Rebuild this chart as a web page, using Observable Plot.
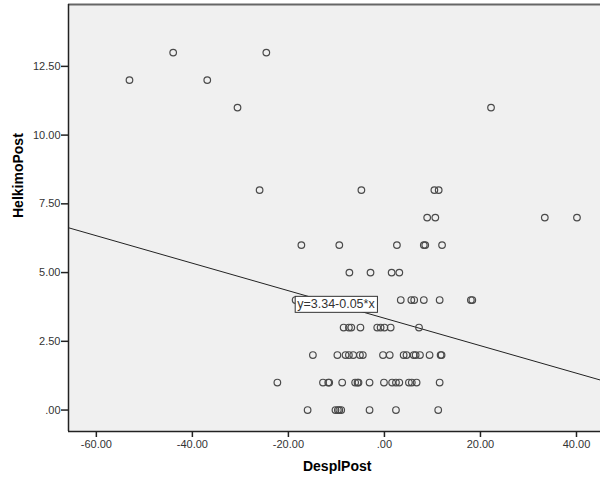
<!DOCTYPE html>
<html><head><meta charset="utf-8">
<script src="https://cdn.jsdelivr.net/npm/d3@7"></script>
<script src="https://cdn.jsdelivr.net/npm/@observablehq/plot@0.6"></script>
<style>body{margin:0;background:#fff} svg{display:block}</style>
</head><body><div id="chart"></div>
<script>
// DesplPost (x) and HelkimoPost (y)
const despl = [
  -44.0, -24.6,
  -53.1, -36.9,
  -30.6, 22.2,
  -26.0, -4.8, 10.4, 11.3,
  8.9, 10.6, 33.4, 40.1,
  -17.3, -9.4, 2.6, 8.2, 8.5, 12.0,
  -7.3, -2.9, 1.5, 3.1,
  -18.5, 3.4, 5.6, 6.2, 8.2, 11.5, 18.0, 18.3,
  -8.5, -7.4, -6.9, -5.0, -1.5, -0.8, 0.0, 1.3, 7.2,
  -14.9, -9.8, -8.1, -7.4, -6.5, -5.1, -4.5, -0.3, 1.1, 4.0, 4.6, 6.1, 6.5, 7.4, 9.4, 11.7, 11.9,
  -22.3, -12.8, -11.7, -11.5, -8.8, -6.1, -5.6, -5.4, -3.1, -0.1, 1.6, 2.4, 3.1, 5.1, 5.7, 6.7, 11.5,
  -16.0, -10.2, -9.7, -9.4, -9.0, -3.1, 2.4, 11.2
];
const helkimo = [
  13, 13,
  12, 12,
  11, 11,
  8, 8, 8, 8,
  7, 7, 7, 7,
  6, 6, 6, 6, 6, 6,
  5, 5, 5, 5,
  4, 4, 4, 4, 4, 4, 4, 4,
  3, 3, 3, 3, 3, 3, 3, 3, 3,
  2, 2, 2, 2, 2, 2, 2, 2, 2, 2, 2, 2, 2, 2, 2, 2, 2,
  1, 1, 1, 1, 1, 1, 1, 1, 1, 1, 1, 1, 1, 1, 1, 1, 1,
  0, 0, 0, 0, 0, 0, 0, 0
];
const xTicks = [-60, -40, -20, 0, 20, 40];
const yTicks = [0, 2.5, 5, 7.5, 10, 12.5];
const xDomain = [-65.8, 45];
const yDomain = [-0.78, 14.75];
const intercept = 3.34;
const slope = -0.05;
const fitLabel = "y=3.34-0.05*x";
const labelX = -10.1;
const xTitle = "DesplPost";
const yTitle = "HelkimoPost";

const fmt = d => d3.format(".2f")(d).replace("\u2212", "-").replace(/^(-?)0\./, "$1.");
const points = despl.map((x, i) => ({x, y: helkimo[i]}));
const fit = xDomain.map(x => ({x, y: intercept + slope * x}));

const plot = Plot.plot({
  width: 600, height: 483,
  marginLeft: 68, marginRight: 0, marginTop: 4, marginBottom: 52,
  style: {fontFamily: "'Liberation Sans', Arial, sans-serif", fontSize: "11px", color: "#333", background: "#fff"},
  x: {domain: xDomain, label: null},
  y: {domain: yDomain, label: null},
  marks: [
    Plot.frame({fill: "#f0f0f0"}),
    Plot.ruleY([yDomain[1]], {stroke: "#666", strokeWidth: 2}),
    Plot.line(fit, {x: "x", y: "y", stroke: "#222", strokeWidth: 1, clip: true}),
    Plot.dot(points, {x: "x", y: "y", r: 3.3, stroke: "#4a4a4a", strokeWidth: 1.2, fill: "none"}),
    Plot.text([{x: labelX, y: intercept + slope * labelX, t: fitLabel}], {x: "x", y: "y", text: "t", fontSize: 12.5, fill: "#333"}),
    Plot.ruleX([xDomain[0]], {stroke: "#222", strokeWidth: 1.5}),
    Plot.ruleY([yDomain[0]], {stroke: "#222", strokeWidth: 1.5}),
    Plot.axisX({ticks: xTicks, tickFormat: fmt, tickSize: 6, tickPadding: 3, label: null, stroke: "#222", strokeWidth: 1.5}),
    Plot.axisY({ticks: yTicks, tickFormat: fmt, tickSize: 7, tickPadding: 1, label: null, stroke: "#222", strokeWidth: 1.5}),
    Plot.text([yTitle], {frameAnchor: "left", dx: -49.5, rotate: -90, fontSize: 14, fontWeight: "bold", fill: "#000"}),
    Plot.text([xTitle], {frameAnchor: "bottom", dx: 2.7, dy: 39, fontSize: 14, fontWeight: "bold", fill: "#000"})
  ]
});
document.getElementById("chart").appendChild(plot);

// white bordered box behind the fit label
const lbl = [...plot.querySelectorAll("text")].find(t => t.textContent === fitLabel);
if (lbl) {
  const b = lbl.getBBox();
  const r = document.createElementNS("http://www.w3.org/2000/svg", "rect");
  r.setAttribute("x", b.x - 2);
  r.setAttribute("y", b.y - 1);
  r.setAttribute("width", b.width + 4);
  r.setAttribute("height", b.height + 2);
  r.setAttribute("fill", "#fff");
  r.setAttribute("stroke", "#333");
  r.setAttribute("stroke-width", 1);
  if (lbl.getAttribute("transform")) r.setAttribute("transform", lbl.getAttribute("transform"));
  lbl.parentNode.insertBefore(r, lbl);
}
</script>
</body></html>
